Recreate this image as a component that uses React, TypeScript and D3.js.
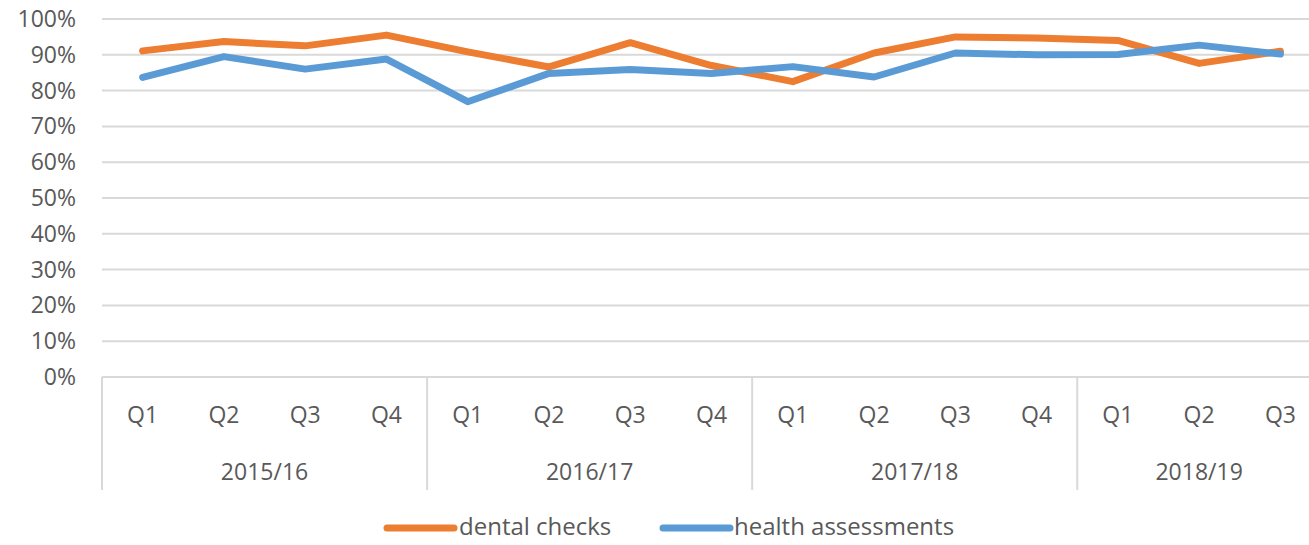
import { scaleBand, scaleLinear, line } from 'd3';

const years = ['2015/16', '2016/17', '2017/18', '2018/19'];
const quarters = ['Q1', 'Q2', 'Q3', 'Q4', 'Q1', 'Q2', 'Q3', 'Q4', 'Q1', 'Q2', 'Q3', 'Q4', 'Q1', 'Q2', 'Q3'];
const yearOf = [0, 0, 0, 0, 1, 1, 1, 1, 2, 2, 2, 2, 3, 3, 3];
const dental = [91.1, 93.7, 92.5, 95.5, 90.8, 86.6, 93.4, 87.0, 82.5, 90.5, 95.0, 94.7, 94.0, 87.6, 91.0];
const health = [83.7, 89.5, 86.0, 88.8, 76.9, 84.8, 85.9, 84.8, 86.7, 83.8, 90.5, 90.0, 90.1, 92.7, 90.2];
const yTicks = [0, 10, 20, 30, 40, 50, 60, 70, 80, 90, 100];

const W = 1309;
const H = 545;
const LEFT = 102;
const TOP = 19;
const BOTTOM = 377;
const AXIS_BOTTOM = 490;
const FONT = '"Open Sans", sans-serif';
const TEXT = '#595959';
const GRID = '#d9d9d9';

export default function App() {
  const keys = quarters.map((_, i) => String(i));
  const x = scaleBand<string>().domain(keys).range([LEFT, LEFT + 15 * 81.27]);
  const y = scaleLinear().domain([0, 100]).range([BOTTOM, TOP]);
  const cx = (i: number) => (x(String(i)) as number) + x.bandwidth() / 2;
  const lineGen = line<number>().x((_, i) => cx(i)).y(d => y(d));

  const series = [
    { name: 'dental checks', color: '#ED7D31', values: dental },
    { name: 'health assessments', color: '#5B9BD5', values: health },
  ];

  // year group boundaries
  const groupEdges: number[] = [];
  yearOf.forEach((g, i) => {
    if (i === 0 || yearOf[i - 1] !== g) groupEdges.push(x(String(i)) as number);
  });

  const legend = [
    { x0: 387, tx: 459 },
    { x0: 663, tx: 734 },
  ];

  return (
    <svg width={W} height={H} style={{ position: 'absolute', left: 0, top: 0, background: '#fff' }}>
      {yTicks.map(t => (
        <g key={t}>
          <line x1={LEFT} x2={W} y1={y(t)} y2={y(t)} stroke={GRID} strokeWidth={2} />
          <text x={76} y={y(t)} dy="0.35em" textAnchor="end" fontFamily={FONT} fontSize={23} fill={TEXT}>
            {t}%
          </text>
        </g>
      ))}
      {groupEdges.map((ex, i) => (
        <line key={i} x1={ex} x2={ex} y1={BOTTOM} y2={AXIS_BOTTOM} stroke={GRID} strokeWidth={2} />
      ))}
      {quarters.map((q, i) => (
        <text key={i} x={cx(i)} y={415} dy="0.35em" textAnchor="middle" fontFamily={FONT} fontSize={23} fill={TEXT}>
          {q}
        </text>
      ))}
      {years.map((yr, g) => {
        const idx = yearOf.map((v, i) => (v === g ? i : -1)).filter(i => i >= 0);
        const start = x(String(idx[0])) as number;
        const end = start + idx.length * x.bandwidth();
        return (
          <text key={yr} x={(start + end) / 2} y={472} dy="0.35em" textAnchor="middle" fontFamily={FONT} fontSize={23} fill={TEXT}>
            {yr}
          </text>
        );
      })}
      {series.map(s => (
        <path key={s.name} d={lineGen(s.values) || ''} fill="none" stroke={s.color} strokeWidth={7} strokeLinejoin="round" strokeLinecap="round" />
      ))}
      {series.map((s, i) => (
        <g key={s.name}>
          <line x1={legend[i].x0} x2={legend[i].x0 + 67} y1={528} y2={528} stroke={s.color} strokeWidth={7} strokeLinecap="round" />
          <text x={legend[i].tx} y={527} dy="0.35em" fontFamily={FONT} fontSize={24} fill={TEXT}>
            {s.name}
          </text>
        </g>
      ))}
    </svg>
  );
}
